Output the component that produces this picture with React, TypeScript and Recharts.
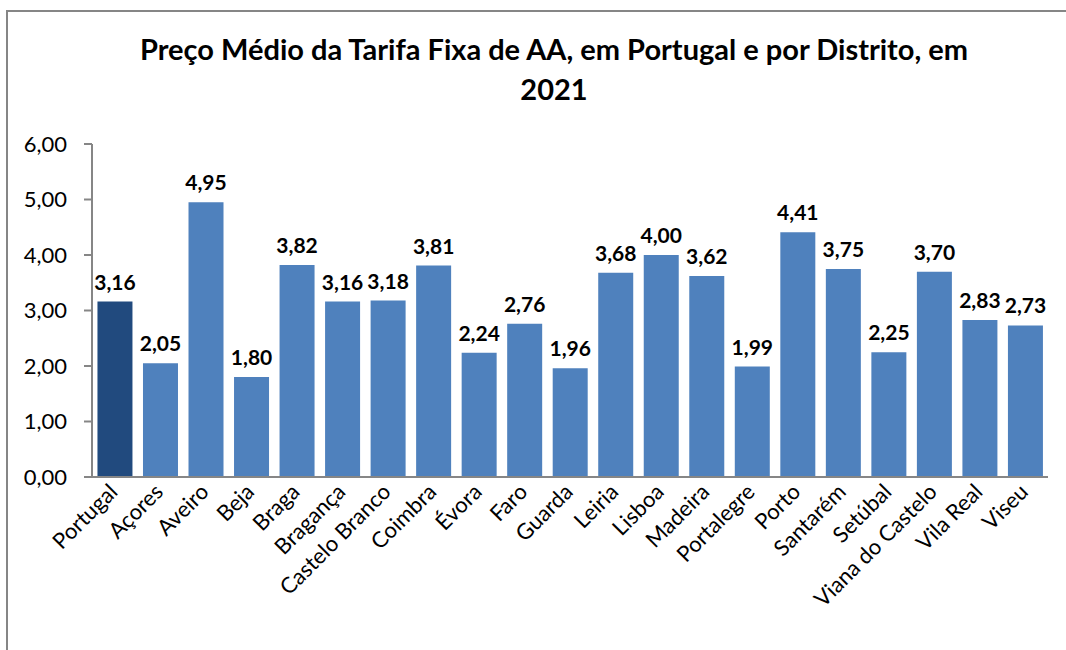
import { BarChart, Bar, XAxis, YAxis, Cell, LabelList } from 'recharts';

const DISTRICTS = [
  'Portugal', 'Açores', 'Aveiro', 'Beja', 'Braga', 'Bragança', 'Castelo Branco',
  'Coimbra', 'Évora', 'Faro', 'Guarda', 'Leiria', 'Lisboa', 'Madeira', 'Portalegre',
  'Porto', 'Santarém', 'Setúbal', 'Viana do Castelo', 'Vila Real', 'Viseu',
];

const PRICES = [
  3.16, 2.05, 4.95, 1.8, 3.82, 3.16, 3.18, 3.81, 2.24, 2.76, 1.96, 3.68, 4.0, 3.62,
  1.99, 4.41, 3.75, 2.25, 3.7, 2.83, 2.73,
];

const Y_TICKS = [0, 1, 2, 3, 4, 5, 6];
const BOUNDARY_TICKS = Array.from({ length: DISTRICTS.length + 1 }, (_, i) => i);

const FONT = 'Lato, "Open Sans", sans-serif';
const AXIS_GRAY = '#868686';

const fmt = (v: number) => v.toFixed(2).replace('.', ',');

const data = DISTRICTS.map((name, i) => ({ name, value: PRICES[i], idx: i + 0.5 }));

const RotatedTick = (props: any) => {
  const { x, y, payload } = props;
  return (
    <g transform={`translate(${x},${y})`}>
      <text
        transform="rotate(-45)"
        textAnchor="end"
        dy={6}
        fontSize={22}
        fontFamily={FONT}
        fill="#000"
      >
        {payload.value}
      </text>
    </g>
  );
};

export default function App() {
  return (
    <div
      style={{
        position: 'absolute',
        left: 0,
        top: 0,
        width: 1066,
        height: 650,
        overflow: 'hidden',
        background: '#fff',
      }}
    >
      <div
        style={{
          position: 'absolute',
          left: 6,
          top: 10,
          width: 1100,
          height: 700,
          border: `2px solid ${AXIS_GRAY}`,
        }}
      />
      <div
        style={{
          position: 'absolute',
          left: 0,
          top: 29,
          width: 1108,
          textAlign: 'center',
          fontFamily: FONT,
          fontWeight: 700,
          fontSize: 29,
          lineHeight: '40px',
          color: '#000',
        }}
      >
        Preço Médio da Tarifa Fixa de AA, em Portugal e por Distrito, em
        <br />
        2021
      </div>
      <div style={{ position: 'absolute', left: 0, top: 0 }}>
        <BarChart
          width={1066}
          height={650}
          data={data}
          margin={{ top: 144, right: 18, bottom: 13, left: 12 }}
          barCategoryGap="12%"
        >
          <XAxis
            xAxisId="ticks"
            type="number"
            dataKey="idx"
            domain={[0, DISTRICTS.length]}
            ticks={BOUNDARY_TICKS}
            height={0}
            tick={false}
            tickSize={7}
            axisLine={false}
            tickLine={{ stroke: AXIS_GRAY, strokeWidth: 2 }}
          />
          <XAxis
            xAxisId="cat"
            dataKey="name"
            interval={0}
            height={160}
            tickLine={false}
            axisLine={false}
            tick={<RotatedTick />}
            tickMargin={6}
          />
          <YAxis
            width={80}
            domain={[0, 6]}
            ticks={Y_TICKS}
            tickFormatter={fmt}
            tickSize={8}
            tickMargin={17}
            axisLine={{ stroke: AXIS_GRAY, strokeWidth: 2 }}
            tickLine={{ stroke: AXIS_GRAY, strokeWidth: 2 }}
            tick={{ fontSize: 22, fontFamily: FONT, fill: '#000' }}
          />
          <Bar dataKey="value" xAxisId="cat" isAnimationActive={false}>
            {data.map((_, index) => (
              <Cell key={`cell-${index}`} fill={index === 0 ? '#214A7E' : '#4F81BD'} />
            ))}
            <LabelList
              dataKey="value"
              position="top"
              offset={12}
              formatter={(v: any) => fmt(Number(v))}
              style={{ fontSize: 21, fontWeight: 700, fontFamily: FONT, fill: '#000' }}
            />
          </Bar>
        </BarChart>
      </div>
      <div
        style={{
          position: 'absolute',
          left: 92,
          top: 476,
          width: 956,
          height: 2,
          background: AXIS_GRAY,
        }}
      />
    </div>
  );
}
